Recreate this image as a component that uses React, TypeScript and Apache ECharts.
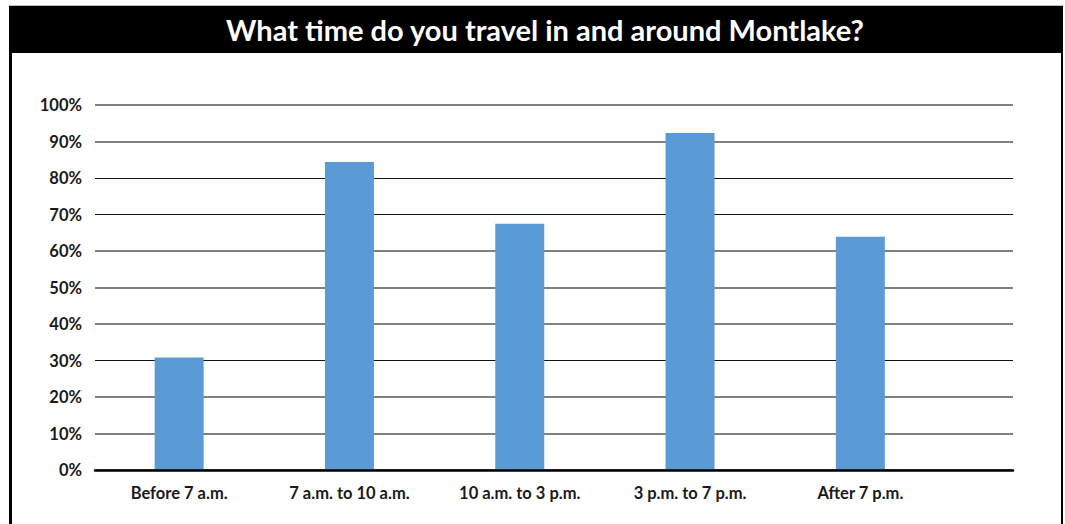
import React, { useEffect, useRef } from "react";
import * as echarts from "echarts";

const title = "What time do you travel in and around Montlake?";
const categories = ["Before 7 a.m.", "7 a.m. to 10 a.m.", "10 a.m. to 3 p.m.", "3 p.m. to 7 p.m.", "After 7 p.m."];
const shares = [30.8, 84.4, 67.5, 92.3, 63.9];
const yTicks = { min: 0, max: 100, interval: 10 };
// which gridlines are dark (by tick index from 0%)
const darkLines = [false, false, false, true, false, false, false, true, true, false, false];

const FONT = "Lato, 'Open Sans', sans-serif";
const T = "rgba(0,0,0,0)";

export default function App() {
  const ref = useRef<HTMLDivElement>(null);
  useEffect(() => {
    if (!ref.current) return;
    const chart = echarts.init(ref.current, null, { renderer: "svg" });
    const grayColors = darkLines.map((d) => (d ? T : "#808080"));
    const blackColors = darkLines.map((d) => (d ? "#111111" : T));
    chart.setOption({
      animation: false,
      backgroundColor: "#ffffff",
      graphic: [
        { type: "line", shape: { x1: 9, y1: 5.5, x2: 1063, y2: 5.5 }, style: { stroke: "#bdbdbd", lineWidth: 1 } },
        { type: "rect", shape: { x: 9, y: 6, width: 1054, height: 47 }, style: { fill: "#000000" } },
        { type: "line", shape: { x1: 10.5, y1: 6, x2: 10.5, y2: 524 }, style: { stroke: "#000", lineWidth: 3 } },
        { type: "line", shape: { x1: 1062, y1: 6, x2: 1062, y2: 524 }, style: { stroke: "#000", lineWidth: 2 } },
        {
          type: "text",
          x: 545,
          y: 29,
          style: {
            text: title,
            fill: "#ffffff",
            font: `bold 29px ${FONT}`,
            textAlign: "center",
            textVerticalAlign: "middle",
          },
        },
      ],
      grid: [
        { left: 95, right: 52, top: 105, height: 365 },
        { left: 94, width: 851.5, top: 105, height: 365 },
      ],
      xAxis: [
        {
          gridIndex: 0,
          type: "category",
          data: [""],
          axisLine: { show: true, lineStyle: { color: "#000", width: 2.5 } },
          axisTick: { show: false },
          axisLabel: { show: false },
          splitLine: { show: false },
          z: 5,
        },
        {
          gridIndex: 1,
          type: "category",
          data: categories,
          axisLine: { show: false },
          axisTick: { show: false },
          axisLabel: {
            margin: 14,
            color: "#1a1a1a",
            fontFamily: FONT,
            fontWeight: "bold",
            fontSize: 16.5,
            interval: 0,
          },
        },
      ],
      yAxis: [
        {
          gridIndex: 0,
          type: "value",
          min: yTicks.min,
          max: yTicks.max,
          interval: yTicks.interval,
          axisLine: { show: false },
          axisTick: { show: false },
          axisLabel: {
            margin: 13,
            formatter: "{value}%",
            color: "#1a1a1a",
            fontFamily: FONT,
            fontWeight: "bold",
            fontSize: 16.5,
          },
          splitLine: { show: true, lineStyle: { color: grayColors, width: 2 } },
        },
        {
          gridIndex: 0,
          type: "value",
          min: yTicks.min,
          max: yTicks.max,
          interval: yTicks.interval,
          axisLine: { show: false },
          axisTick: { show: false },
          axisLabel: { show: false },
          splitLine: { show: true, lineStyle: { color: blackColors, width: 1.2 } },
        },
        {
          gridIndex: 1,
          type: "value",
          min: yTicks.min,
          max: yTicks.max,
          interval: yTicks.interval,
          show: false,
        },
      ],
      series: [
        {
          type: "bar",
          xAxisIndex: 1,
          yAxisIndex: 2,
          data: shares,
          barWidth: 49,
          itemStyle: { color: "#5B9BD5" },
          z: 3,
        },
      ],
    });
    return () => chart.dispose();
  }, []);
  return (
    <div
      ref={ref}
      style={{ position: "absolute", left: 0, top: 0, width: 1065, height: 524 }}
    />
  );
}
